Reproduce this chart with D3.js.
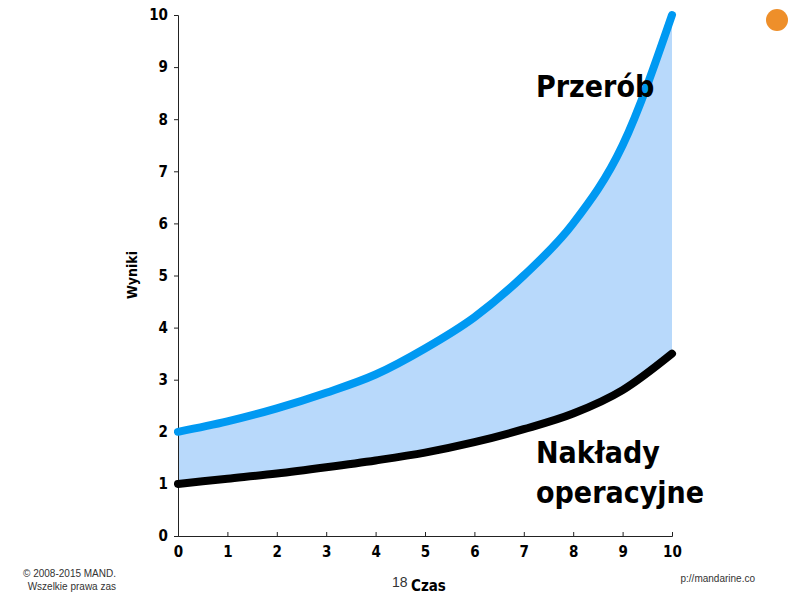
<!DOCTYPE html>
<html><head><meta charset="utf-8">
<script src="https://cdn.jsdelivr.net/npm/d3@7"></script>
<style>
body{margin:0;background:#fff}
text{font-family:"Liberation Sans Narrow","DejaVu Sans Condensed",sans-serif}
.tick text{font-weight:bold;font-size:15px}
</style></head><body>
<svg id="chart" width="800" height="600"></svg>
<script>
// values
const xs = [0,1,2,3,4,5,6,7,8,9,10];
const przerob = [2,2.2,2.45,2.75,3.1,3.6,4.2,5.0,6.0,7.5,10];
const naklady = [1,1.1,1.2,1.32,1.45,1.6,1.8,2.05,2.35,2.8,3.5];
const ticks = [0,1,2,3,4,5,6,7,8,9,10];

const svg = d3.select('#chart');
const x = d3.scaleLinear().domain([0,10]).range([178,672]);
const y = d3.scaleLinear().domain([0,10]).range([536,15]);

const data = xs.map((d,i) => ({x:d, hi:przerob[i], lo:naklady[i]}));

svg.append('path').datum(data)
  .attr('fill','#b8d9fb')
  .attr('d', d3.area().curve(d3.curveMonotoneX).x(d=>x(d.x)).y0(d=>y(d.lo)).y1(d=>y(d.hi)));

const xAxis = svg.append('g').attr('transform','translate(0,536)')
  .call(d3.axisBottom(x).tickValues(ticks).tickSize(-4).tickPadding(10));
const yAxis = svg.append('g').attr('transform','translate(178,0)')
  .call(d3.axisLeft(y).tickValues(ticks).tickSize(4).tickPadding(6));
[xAxis,yAxis].forEach(a => {
  a.selectAll('path,line').attr('stroke','#222');
  a.selectAll('text').attr('fill','#000');
});

const line = k => d3.line().curve(d3.curveMonotoneX).x(d=>x(d.x)).y(d=>y(d[k]));
svg.append('path').datum(data).attr('fill','none').attr('stroke','#0099f2')
  .attr('stroke-width',8).attr('stroke-linecap','round').attr('d', line('hi'));
svg.append('path').datum(data).attr('fill','none').attr('stroke','#000')
  .attr('stroke-width',8).attr('stroke-linecap','round').attr('d', line('lo'));

const big = (t,px,py) => svg.append('text').attr('x',px).attr('y',py)
  .attr('font-size',30).attr('font-weight','bold').text(t);
big('Przerób',536,97);
big('Nakłady',536,463);
big('operacyjne',536,503);

svg.append('text').attr('transform','translate(137,275) rotate(-90)')
  .attr('text-anchor','middle').attr('font-weight','bold').attr('font-size',14).text('Wyniki');
svg.append('text').attr('x',411).attr('y',591).attr('font-weight','bold').attr('font-size',15).text('Czas');
svg.append('text').attr('x',392).attr('y',587).attr('font-size',14).attr('fill','#333')
  .style('font-family','Helvetica, Arial, sans-serif').text('18');

const small = (t,px,py,anchor) => svg.append('text').attr('x',px).attr('y',py)
  .attr('font-size',10).attr('fill','#333').attr('text-anchor',anchor)
  .style('font-family','Helvetica, Arial, sans-serif').text(t);
small('© 2008-2015 MAND.',116,577,'end');
small('Wszelkie prawa zas',116,590,'end');
small('p://mandarine.co',755,582,'end');

svg.append('circle').attr('cx',777).attr('cy',20).attr('r',11).attr('fill','#ee8f2a');
</script></body></html>
